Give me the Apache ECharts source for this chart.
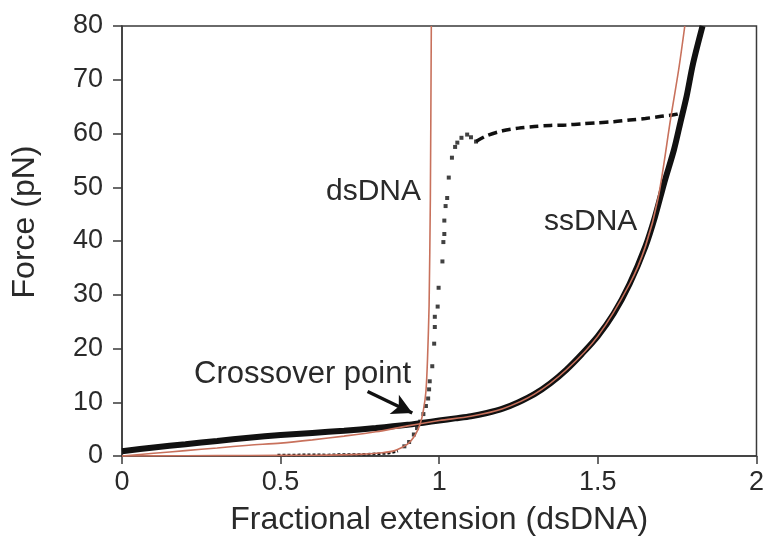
<!DOCTYPE html>
<html>
<head>
<meta charset="utf-8">
<script src="https://cdn.jsdelivr.net/npm/echarts@6/dist/echarts.min.js"></script>
<style>
html,body{margin:0;padding:0;background:#fff;}
#chart{width:767px;height:541px;}
</style>
</head>
<body>
<div id="chart"></div>
<script>
// ---- Data ----
// x = fractional extension (dsDNA), y = force (pN)
var ssDataX = [0, 0.1, 0.2, 0.3, 0.4, 0.5, 0.6, 0.7, 0.8, 0.9, 0.95, 1.0, 1.05, 1.1, 1.15, 1.2, 1.25, 1.3, 1.35, 1.4, 1.45, 1.5, 1.55, 1.6, 1.65, 1.68, 1.71, 1.74, 1.76, 1.78, 1.8, 1.83];
var ssDataF = [0.9, 1.6, 2.2, 2.8, 3.4, 3.9, 4.3, 4.7, 5.2, 5.8, 6.2, 6.6, 7.0, 7.4, 8.0, 8.8, 10.0, 11.5, 13.5, 16.0, 19.0, 22.3, 26.5, 32.0, 39.0, 44.5, 51, 57, 62, 67, 73, 80];

var ssFitX = [0, 0.1, 0.2, 0.3, 0.4, 0.5, 0.6, 0.7, 0.8, 0.9, 1.0, 1.1, 1.2, 1.3, 1.4, 1.5, 1.6, 1.65, 1.69, 1.73, 1.755, 1.774];
var ssFitF = [0, 0.5, 1.0, 1.5, 2.0, 2.4, 3.0, 3.7, 4.5, 5.6, 6.6, 7.4, 8.8, 11.5, 16.0, 22.3, 32.0, 39.0, 48, 63, 72, 80];

var dsFitX = [0, 0.2, 0.4, 0.6, 0.75, 0.82, 0.86, 0.9, 0.925, 0.94, 0.95, 0.958, 0.963, 0.968, 0.972, 0.975];
var dsFitF = [0, 0.05, 0.1, 0.15, 0.3, 0.6, 1.0, 2.2, 4.0, 6.0, 8.5, 12, 18, 28, 48, 80];

var dsLowX = [0.49, 0.55, 0.6, 0.65, 0.7, 0.75, 0.8, 0.84, 0.87];
var dsLowF = [0.2, 0.2, 0.25, 0.2, 0.3, 0.3, 0.4, 0.5, 0.9];

var riseX = [0.89, 0.905, 0.92, 0.93, 0.94, 0.95, 0.958, 0.965, 0.968, 0.97, 0.978, 0.984, 0.986, 0.986, 0.995, 0.998, 1.01, 1.013, 1.016, 1.016, 1.02, 1.025, 1.03, 1.04, 1.05, 1.057, 1.07, 1.088, 1.1, 1.116];
var riseF = [1.8, 2.6, 4.0, 5.2, 6.4, 7.8, 9.3, 10.7, 12.4, 13.9, 16.7, 20.9, 24.0, 25.9, 27.8, 31.3, 36.2, 39.8, 41.3, 43.8, 46.5, 48, 51.8, 55.5, 57.5, 58.3, 59.2, 59.8, 59.3, 58.5];

var plateauX = [1.116, 1.15, 1.2, 1.25, 1.3, 1.35, 1.4, 1.45, 1.5, 1.55, 1.6, 1.65, 1.7, 1.75, 1.765];
var plateauF = [58.5, 59.6, 60.5, 61.0, 61.3, 61.5, 61.6, 61.8, 62.0, 62.2, 62.5, 62.8, 63.2, 63.6, 64.0];

var xTicks = [0, 0.5, 1, 1.5, 2];
var yTicks = [0, 10, 20, 30, 40, 50, 60, 70, 80];

var arrowFrom = [0.774, 12.0];
var arrowTo = [0.915, 8.0];

function zip(xs, ys) { return xs.map(function (x, i) { return [x, ys[i]]; }); }

var chart = echarts.init(document.getElementById('chart'), null, {renderer: 'canvas'});
var FONT = '"Liberation Sans", Arial, Helvetica, sans-serif';
var TXT = '#2a2a2a';
var RED = '#c8715c';

chart.setOption({
  animation: false,
  backgroundColor: '#ffffff',
  grid: {left: 122, top: 26, right: 9, bottom: 83, show: true, borderColor: '#3a3a3a', borderWidth: 1.5},
  xAxis: {
    type: 'value', min: 0, max: 2, interval: 0.5,
    axisLine: {show: true, lineStyle: {color: '#3a3a3a', width: 1.5}},
    axisTick: {show: true, inside: false, length: 8, lineStyle: {color: '#3a3a3a', width: 1.5}},
    splitLine: {show: false},
    axisLabel: {
      margin: 13, color: TXT, fontFamily: FONT, fontSize: 27,
      formatter: function (v) { return xTicks.indexOf(v) >= 0 ? String(v) : ''; }
    },
    name: 'Fractional extension (dsDNA)', nameLocation: 'middle', nameGap: 48,
    nameTextStyle: {color: TXT, fontFamily: FONT, fontSize: 32}
  },
  yAxis: {
    type: 'value', min: 0, max: 80, interval: 10,
    axisLine: {show: true, lineStyle: {color: '#3a3a3a', width: 1.5}},
    axisTick: {show: true, inside: false, length: 9, lineStyle: {color: '#3a3a3a', width: 1.5}},
    splitLine: {show: false},
    axisLabel: {
      margin: 19, color: TXT, fontFamily: FONT, fontSize: 27,
      formatter: function (v) { return yTicks.indexOf(v) >= 0 ? String(v) : ''; }
    }
  },
  graphic: [
    {type: 'text', x: 25, y: 222, rotation: Math.PI / 2,
      style: {text: 'Force (pN)', fill: TXT, font: '32px ' + FONT, align: 'center', verticalAlign: 'middle'}},
    {type: 'text', x: 421, y: 192,
      style: {text: 'dsDNA', fill: TXT, font: '30px ' + FONT, align: 'right', verticalAlign: 'middle'}},
    {type: 'text', x: 544, y: 222,
      style: {text: 'ssDNA', fill: TXT, font: '30px ' + FONT, align: 'left', verticalAlign: 'middle'}},
    {type: 'text', x: 194, y: 374,
      style: {text: 'Crossover point', fill: TXT, font: '31px ' + FONT, align: 'left', verticalAlign: 'middle'}}
  ],
  series: [
    {
      name: 'ssDNA data', type: 'line', data: zip(ssDataX, ssDataF), showSymbol: false,
      smooth: 0.3, lineStyle: {color: '#111', width: 6}, z: 2
    },
    {
      name: 'dsDNA low', type: 'line', data: zip(dsLowX, dsLowF), showSymbol: false,
      lineStyle: {color: '#111', width: 2.5, type: [3, 2]}, z: 2
    },
    {
      name: 'rise', type: 'scatter', data: zip(riseX, riseF), symbol: 'rect', symbolSize: [4, 4],
      itemStyle: {color: '#111'}, z: 3
    },
    {
      name: 'plateau', type: 'line', data: zip(plateauX, plateauF), showSymbol: false,
      smooth: 0.3, lineStyle: {color: '#111', width: 3.5, type: [9, 5]}, z: 3
    },
    {
      name: 'dsDNA fit', type: 'line', data: zip(dsFitX, dsFitF), showSymbol: false,
      smooth: 0.2, lineStyle: {color: RED, width: 1.6}, z: 4
    },
    {
      name: 'ssDNA fit', type: 'line', data: zip(ssFitX, ssFitF), showSymbol: false,
      smooth: 0.3, lineStyle: {color: RED, width: 1.6}, z: 4,
      markLine: {
        silent: true, symbol: ['none', 'arrow'], symbolSize: [16, 20],
        lineStyle: {color: '#111', width: 3.5, type: 'solid'},
        label: {show: false},
        data: [[{coord: arrowFrom}, {coord: arrowTo}]]
      }
    }
  ]
});
</script>
</body>
</html>
